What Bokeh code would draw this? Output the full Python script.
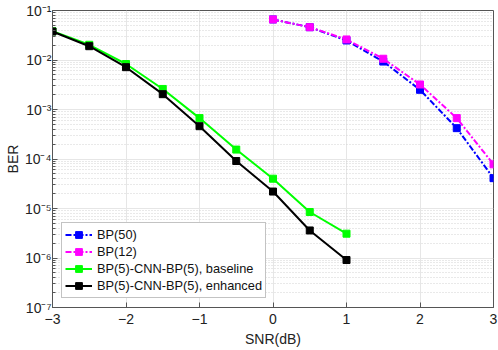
from bokeh.plotting import figure
from bokeh.models import Range1d, FixedTicker, CustomJSTickFormatter, Legend, LegendItem
from bokeh.embed import file_html
from bokeh.resources import INLINE

# ---- data ----
snr_bp = [0, 0.5, 1, 1.5, 2, 2.5, 3]
ber_bp50 = [0.066, 0.046, 0.0248, 0.0093, 0.0025, 4.2e-4, 4.1e-5]
ber_bp12 = [0.066, 0.046, 0.026, 0.0106, 0.0032, 6.7e-4, 7.8e-5]
snr_cnn = [-3, -2.5, -2, -1.5, -1, -0.5, 0, 0.5, 1]
ber_base = [0.038, 0.0203, 0.0083, 0.0026, 6.7e-4, 1.55e-4, 4.0e-5, 8.5e-6, 3.1e-6]
ber_enh = [0.0377, 0.019, 0.00716, 0.00204, 4.6e-4, 9.1e-5, 2.2e-5, 3.6e-6, 9.1e-7]

x_ticks = [-3, -2, -1, 0, 1, 2, 3]
y_ticks = [1e-7, 1e-6, 1e-5, 1e-4, 1e-3, 1e-2, 1e-1]
y_minor = [k * 10.0 ** e for e in range(-7, -1) for k in range(2, 10)]

labels = ["BP(50)", "BP(12)", "BP(5)-CNN-BP(5), baseline", "BP(5)-CNN-BP(5), enhanced"]

FONT = "Liberation Sans"
AX = "#555555"

p = figure(width=498, height=350, y_axis_type="log", output_backend="svg",
           toolbar_location=None, x_range=Range1d(-3, 3), y_range=Range1d(1e-7, 1e-1),
           min_border_left=52, min_border_right=5, min_border_top=10, min_border_bottom=43)

p.outline_line_color = AX
p.outline_line_width = 1
p.background_fill_color = "white"

fmt = CustomJSTickFormatter(code="""
const e = Math.round(Math.log10(tick));
const sup = {'-':'\u207b','0':'\u2070','1':'\u00b9','2':'\u00b2','3':'\u00b3','4':'\u2074','5':'\u2075','6':'\u2076','7':'\u2077','8':'\u2078','9':'\u2079'};
return '10' + String(e).split('').map(c => sup[c]).join('');
""")

yt = FixedTicker(ticks=y_ticks, minor_ticks=y_minor)
xt = FixedTicker(ticks=x_ticks, minor_ticks=[])

for ax in p.yaxis:
    ax.ticker = yt
    ax.formatter = fmt
for ax in p.xaxis:
    ax.ticker = xt

def style_axis(ax):
    ax.axis_line_color = AX
    ax.major_tick_line_color = AX
    ax.minor_tick_line_color = AX
    ax.major_tick_in = 5
    ax.major_tick_out = 0
    ax.minor_tick_in = 3
    ax.minor_tick_out = 0
    ax.major_label_text_font = FONT
    ax.major_label_text_font_size = "14px"
    ax.major_label_text_color = "#222222"
    ax.axis_label_text_font = FONT
    ax.axis_label_text_font_size = "14px"
    ax.axis_label_text_font_style = "normal"
    ax.axis_label_text_color = "#222222"

p.xaxis.axis_label = "SNR(dB)"
p.yaxis.axis_label = "BER"
for ax in p.xaxis:
    style_axis(ax)
for ax in p.yaxis:
    style_axis(ax)
p.yaxis.major_label_standoff = 1
p.yaxis.axis_label_standoff = 1
p.xaxis.major_label_standoff = 6
p.xaxis.axis_label_standoff = 4

p.xgrid.grid_line_color = "#e6e6e6"
p.ygrid.grid_line_color = "#e6e6e6"
p.ygrid.minor_grid_line_color = "#d2d2d2"
p.ygrid.minor_grid_line_dash = "1 2"
p.xgrid.minor_grid_line_color = None

series = [
    (snr_bp, ber_bp50, "#0000ff", "6 2 2 2"),
    (snr_bp, ber_bp12, "#ff00ff", "6 2 2 2"),
    (snr_cnn, ber_base, "#00ff00", "solid"),
    (snr_cnn, ber_enh, "#000000", "solid"),
]
items = []
for (xs, ys, c, dash), lab in zip(series, labels):
    l = p.line(xs, ys, line_color=c, line_width=2, line_dash=dash)
    s = p.scatter(xs, ys, marker="square", size=7, fill_color=c, line_color=c)
    items.append(LegendItem(label=lab, renderers=[l, s]))

leg = Legend(items=items, location="bottom_left")
leg.margin = 9
leg.padding = 3
leg.spacing = 0
leg.glyph_width = 27
leg.glyph_height = 17
leg.label_height = 17
leg.label_standoff = 5
leg.label_text_font = FONT
leg.label_text_font_size = "12.8px"
leg.label_text_color = "#111111"
leg.border_line_color = "#888888"
leg.border_line_width = 1
leg.background_fill_color = "white"
leg.background_fill_alpha = 1
p.add_layout(leg, "center")

open("out.html", "w").write(file_html(p, INLINE))
